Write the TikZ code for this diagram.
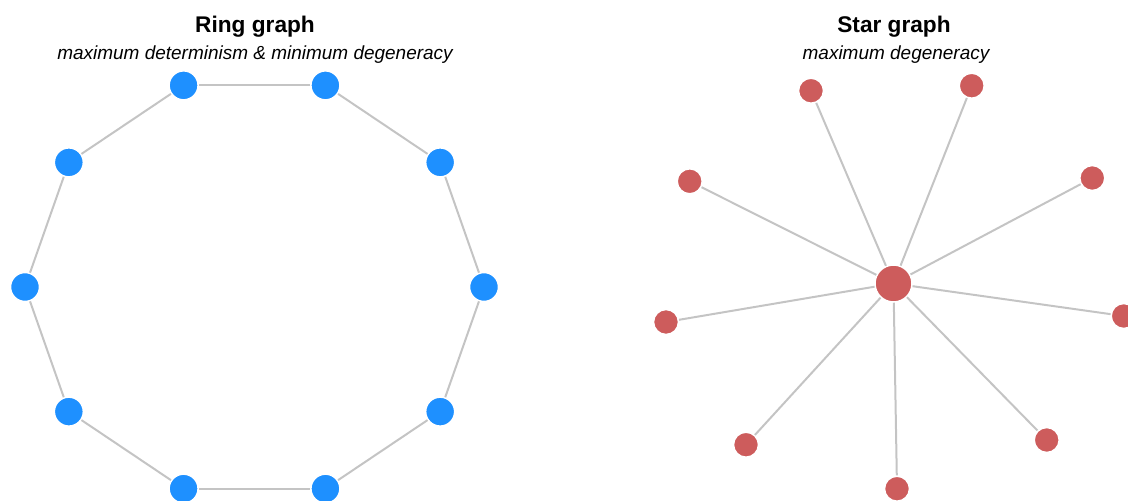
\documentclass[tikz,border=0pt]{standalone}
\usepackage{fontspec}
\setmainfont{Liberation Sans}
\usepackage{tikz}
\usetikzlibrary{positioning}
\definecolor{ringblue}{HTML}{1E90FF}
\definecolor{starred}{HTML}{CD5C5C}
\definecolor{edgegray}{HTML}{C4C4C4}

\begin{document}
\begin{tikzpicture}[x=0.02cm, y=-0.02cm,
  ringnode/.style={circle, fill=ringblue, draw=white, line width=0.03cm, minimum size=0.58cm, inner sep=0pt},
  leafnode/.style={circle, fill=starred, draw=white, line width=0.03cm, minimum size=0.5cm, inner sep=0pt},
  hubnode/.style={circle, fill=starred, draw=white, line width=0.03cm, minimum size=0.74cm, inner sep=0pt},
  link/.style={draw=edgegray, line width=0.04cm},
  heading/.style={font=\fontsize{12.9}{15}\selectfont\bfseries, anchor=base},
  subheading/.style={font=\fontsize{10.8}{13}\selectfont\itshape, anchor=base}]
 \useasboundingbox (0,0) rectangle (1128,500);
 \clip (0,0) rectangle (1128,500);
 % titles
 \node[heading] (ringtitle) at (255,33) {Ring graph};
 \node[subheading] (ringsub) at (255,60) {maximum determinism \& minimum degeneracy};
 \node[heading] (startitle) at (894,33) {Star graph};
 \node[subheading] (starsub) at (896,60) {maximum degeneracy};
 % ring graph
 \foreach \i in {0,...,9}
  \node[ringnode] (r\i) at ({254.5+229.5*cos(36*\i)}, {287-212*sin(36*\i)}) {};
 \foreach \i [evaluate=\i as \j using {int(mod(\i+1,10))}] in {0,...,9}
  \draw[link] (r\i) -- (r\j);
 % star graph
 \node[hubnode] (hub) at (893.5,283.5) {};
 \foreach \x/\y [count=\k] in {811/90.7, 971.7/85.7, 1092.3/178, 1123.7/316, 1046.7/440, 897/488.7, 746/444.7, 666/322, 689.7/181.3}
 {
  \node[leafnode] (s\k) at (\x,\y) {};
  \draw[link] (hub) -- (s\k);
 }
\end{tikzpicture}
\end{document}
